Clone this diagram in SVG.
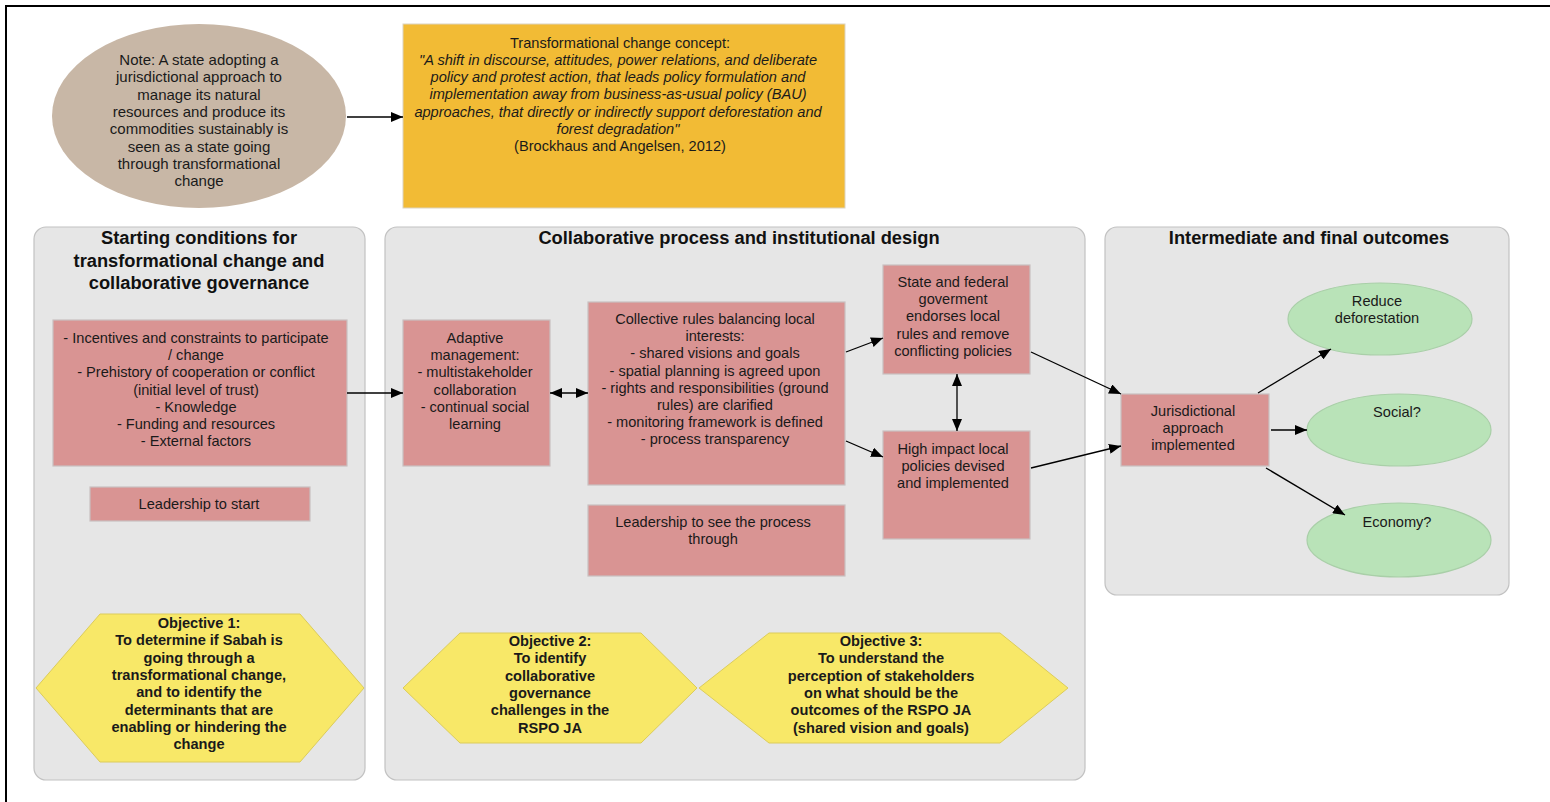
<svg xmlns="http://www.w3.org/2000/svg" width="1550" height="802" viewBox="0 0 1550 802">
<defs>
<style>
.t{font-family:"Liberation Sans",Arial,sans-serif;font-size:14.6px;fill:#1a1a1a;text-anchor:middle}
.n{font-size:15px}
.i{font-style:italic}
.b{font-weight:bold}
.h{font-family:"Liberation Sans",Arial,sans-serif;font-size:18.3px;font-weight:bold;fill:#111;text-anchor:middle}
.panel{fill:#e6e6e6;stroke:#c2c2c2;stroke-width:1.2}
.pink{fill:#d99493;stroke:#c9c0c0;stroke-width:1.2}
.green{fill:#b9e3b8;stroke:#a9cfa8;stroke-width:1.2}
.hex{fill:#f8e868;stroke:#dccc5a;stroke-width:1}
.c{stroke:#000;stroke-width:1.3;fill:none}
</style>
<marker id="ah" viewBox="0 0 12 10" refX="12" refY="5" markerWidth="12" markerHeight="10" markerUnits="userSpaceOnUse" orient="auto-start-reverse">
<path d="M0,0 L12,5 L0,10 Z" fill="#000"/>
</marker>
</defs>
<rect width="1550" height="802" fill="#fff"/>
<path d="M6,802 V6 H1550" fill="none" stroke="#000" stroke-width="2"/>

<g id="note">
<ellipse cx="199" cy="116" rx="147" ry="92" fill="#c8b7a6"/>
<text class="t n" x="199" y="65"><tspan x="199">Note: A state adopting a</tspan><tspan x="199" dy="17.3">jurisdictional approach to</tspan><tspan x="199" dy="17.3">manage its natural</tspan><tspan x="199" dy="17.3">resources and produce its</tspan><tspan x="199" dy="17.3">commodities sustainably is</tspan><tspan x="199" dy="17.3">seen as a state going</tspan><tspan x="199" dy="17.3">through transformational</tspan><tspan x="199" dy="17.3">change</tspan></text>
</g>

<g id="concept">
<rect x="403" y="24" width="442" height="184" fill="#f2bb35" stroke="#dcd3c0" stroke-width="1"/>
<text class="t" x="620" y="48">Transformational change concept:</text>
<text class="t i" x="618" y="65"><tspan x="618">"A shift in discourse, attitudes, power relations, and deliberate</tspan><tspan x="618" dy="17.2">policy and protest action, that leads policy formulation and</tspan><tspan x="618" dy="17.2">implementation away from business-as-usual policy (BAU)</tspan><tspan x="618" dy="17.2">approaches, that directly or indirectly support deforestation and</tspan><tspan x="618" dy="17.2">forest degradation"</tspan></text>
<text class="t" x="620" y="151">(Brockhaus and Angelsen, 2012)</text>
</g>

<g id="panel1">
<rect class="panel" x="34" y="227" width="331" height="553" rx="12"/>
<text class="h" x="199" y="244"><tspan x="199">Starting conditions for</tspan><tspan x="199" dy="22.5">transformational change and</tspan><tspan x="199" dy="22.5">collaborative governance</tspan></text>
</g>
<g id="panel2">
<rect class="panel" x="385" y="227" width="700" height="553" rx="12"/>
<text class="h" x="739" y="244">Collaborative process and institutional design</text>
</g>
<g id="panel3">
<rect class="panel" x="1105" y="227" width="404" height="368" rx="12"/>
<text class="h" x="1309" y="244">Intermediate and final outcomes</text>
</g>

<g id="conditions">
<rect class="pink" x="53" y="320" width="294" height="146"/>
<text class="t" x="196" y="343"><tspan x="196">- Incentives and constraints to participate</tspan><tspan x="196" dy="17.2">/ change</tspan><tspan x="196" dy="17.2">- Prehistory of cooperation or conflict</tspan><tspan x="196" dy="17.2">(initial level of trust)</tspan><tspan x="196" dy="17.2">- Knowledge</tspan><tspan x="196" dy="17.2">- Funding and resources</tspan><tspan x="196" dy="17.2">- External factors</tspan></text>
</g>
<g id="leadership-start">
<rect class="pink" x="90" y="487" width="220" height="34"/>
<text class="t" x="199" y="509">Leadership to start</text>
</g>

<g id="adaptive">
<rect class="pink" x="403" y="320" width="147" height="146"/>
<text class="t" x="475" y="343"><tspan x="475">Adaptive</tspan><tspan x="475" dy="17.2">management:</tspan><tspan x="475" dy="17.2">- multistakeholder</tspan><tspan x="475" dy="17.2">collaboration</tspan><tspan x="475" dy="17.2">- continual social</tspan><tspan x="475" dy="17.2">learning</tspan></text>
</g>

<g id="collective">
<rect class="pink" x="588" y="302" width="257" height="183"/>
<text class="t" x="715" y="324"><tspan x="715">Collective rules balancing local</tspan><tspan x="715" dy="17.2">interests:</tspan><tspan x="715" dy="17.2">- shared visions and goals</tspan><tspan x="715" dy="17.2">- spatial planning is agreed upon</tspan><tspan x="715" dy="17.2">- rights and responsibilities (ground</tspan><tspan x="715" dy="17.2">rules) are clarified</tspan><tspan x="715" dy="17.2">- monitoring framework is defined</tspan><tspan x="715" dy="17.2">- process transparency</tspan></text>
</g>

<g id="leadership-through">
<rect class="pink" x="588" y="505" width="257" height="71"/>
<text class="t" x="713" y="527"><tspan x="713">Leadership to see the process</tspan><tspan x="713" dy="17.2">through</tspan></text>
</g>

<g id="state">
<rect class="pink" x="883" y="265" width="147" height="109"/>
<text class="t" x="953" y="287"><tspan x="953">State and federal</tspan><tspan x="953" dy="17.2">goverment</tspan><tspan x="953" dy="17.2">endorses local</tspan><tspan x="953" dy="17.2">rules and remove</tspan><tspan x="953" dy="17.2">conflicting policies</tspan></text>
</g>

<g id="highimpact">
<rect class="pink" x="883" y="431" width="147" height="108"/>
<text class="t" x="953" y="454"><tspan x="953">High impact local</tspan><tspan x="953" dy="17.2">policies devised</tspan><tspan x="953" dy="17.2">and implemented</tspan></text>
</g>

<g id="jurisdictional">
<rect class="pink" x="1121" y="394" width="148" height="72"/>
<text class="t" x="1193" y="416"><tspan x="1193">Jurisdictional</tspan><tspan x="1193" dy="17.2">approach</tspan><tspan x="1193" dy="17.2">implemented</tspan></text>
</g>

<g id="reduce">
<ellipse class="green" cx="1380" cy="319" rx="92" ry="36"/>
<text class="t" x="1377" y="306"><tspan x="1377">Reduce</tspan><tspan x="1377" dy="17.2">deforestation</tspan></text>
</g>
<g id="social">
<ellipse class="green" cx="1399" cy="430" rx="92" ry="36"/>
<text class="t" x="1397" y="417">Social?</text>
</g>
<g id="economy">
<ellipse class="green" cx="1399" cy="540" rx="92" ry="37"/>
<text class="t" x="1397" y="527">Economy?</text>
</g>

<g id="objective1">
<polygon class="hex" points="36,688 100,614 300,614 364,688 300,762 100,762"/>
<text class="t b" x="199" y="628"><tspan x="199">Objective 1:</tspan><tspan x="199" dy="17.3">To determine if Sabah is</tspan><tspan x="199" dy="17.3">going through a</tspan><tspan x="199" dy="17.3">transformational change,</tspan><tspan x="199" dy="17.3">and to identify the</tspan><tspan x="199" dy="17.3">determinants that are</tspan><tspan x="199" dy="17.3">enabling or hindering the</tspan><tspan x="199" dy="17.3">change</tspan></text>
</g>
<g id="objective2">
<polygon class="hex" points="403,688 460,633 641,633 697,688 641,743 460,743"/>
<text class="t b" x="550" y="646"><tspan x="550">Objective 2:</tspan><tspan x="550" dy="17.3">To identify</tspan><tspan x="550" dy="17.3">collaborative</tspan><tspan x="550" dy="17.3">governance</tspan><tspan x="550" dy="17.3">challenges in the</tspan><tspan x="550" dy="17.3">RSPO JA</tspan></text>
</g>
<g id="objective3">
<polygon class="hex" points="699,688 769,633 1000,633 1068,688 1000,743 769,743"/>
<text class="t b" x="881" y="646"><tspan x="881">Objective 3:</tspan><tspan x="881" dy="17.3">To understand the</tspan><tspan x="881" dy="17.3">perception of stakeholders</tspan><tspan x="881" dy="17.3">on what should be the</tspan><tspan x="881" dy="17.3">outcomes of the RSPO JA</tspan><tspan x="881" dy="17.3">(shared vision and goals)</tspan></text>
</g>

<g id="connectors">
<line class="c" x1="347" y1="117" x2="403" y2="117" marker-end="url(#ah)"/>
<line class="c" x1="347" y1="393" x2="403" y2="393" marker-end="url(#ah)"/>
<line class="c" x1="550" y1="393" x2="588" y2="393" marker-start="url(#ah)" marker-end="url(#ah)"/>
<line class="c" x1="846" y1="352" x2="883" y2="338" marker-end="url(#ah)"/>
<line class="c" x1="846" y1="441" x2="883" y2="457" marker-end="url(#ah)"/>
<line class="c" x1="957" y1="374" x2="957" y2="431" marker-start="url(#ah)" marker-end="url(#ah)"/>
<line class="c" x1="1031" y1="352" x2="1121" y2="394" marker-end="url(#ah)"/>
<line class="c" x1="1031" y1="468" x2="1121" y2="446" marker-end="url(#ah)"/>
<line class="c" x1="1258" y1="393" x2="1331" y2="349" marker-end="url(#ah)"/>
<line class="c" x1="1271" y1="430" x2="1307" y2="430" marker-end="url(#ah)"/>
<line class="c" x1="1266" y1="468" x2="1345" y2="515" marker-end="url(#ah)"/>
</g>
</svg>
